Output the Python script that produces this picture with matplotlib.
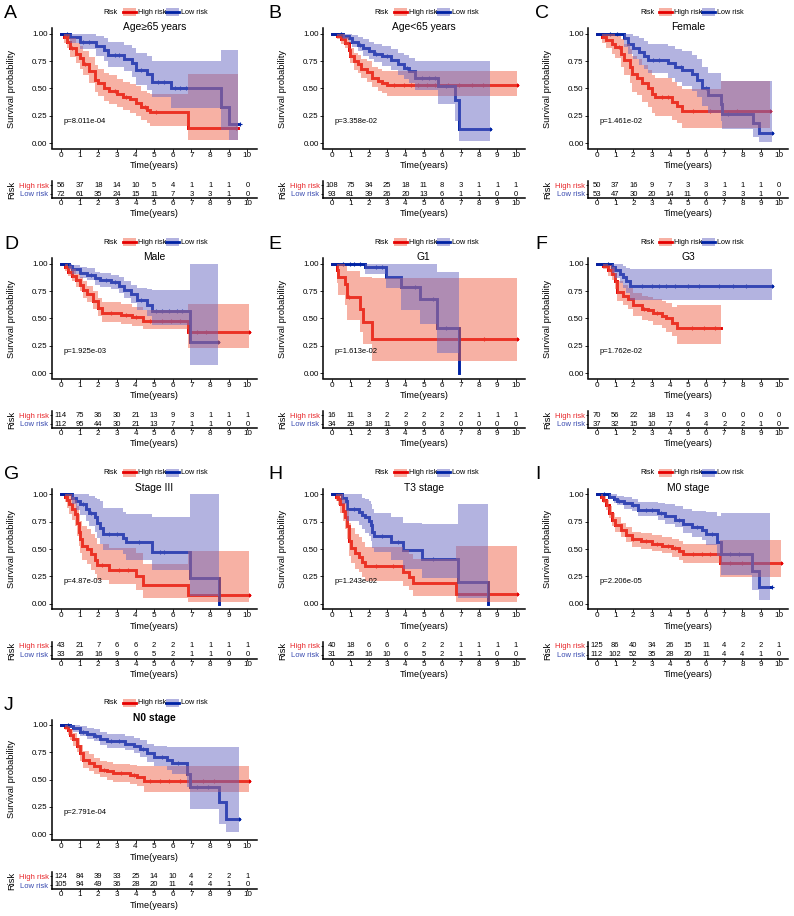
import matplotlib
matplotlib.use('Agg')
import matplotlib.pyplot as plt
import numpy as np
from matplotlib.patches import Rectangle
from matplotlib.lines import Line2D

plt.rcParams['font.family'] = ['Liberation Sans', 'DejaVu Sans']

# ---------------- data ----------------
time_ticks = list(range(11))

A_high = dict(t=[0, 0.15, 0.3, 0.5, 0.8, 1.0, 1.2, 1.5, 1.8, 2.0, 2.3, 2.6, 3.0, 3.3, 3.7, 4.0, 4.3, 4.6, 4.8, 6.8, 9.5],
              s=[1, 0.97, 0.93, 0.87, 0.82, 0.78, 0.72, 0.66, 0.58, 0.55, 0.50, 0.48, 0.45, 0.42, 0.40, 0.37, 0.33, 0.30, 0.28, 0.14, 0.14],
              lo=[1, 0.92, 0.87, 0.79, 0.73, 0.68, 0.62, 0.55, 0.47, 0.43, 0.39, 0.36, 0.33, 0.30, 0.28, 0.25, 0.21, 0.18, 0.16, 0.03, 0.03],
              hi=[1, 1.0, 1.0, 0.96, 0.92, 0.89, 0.84, 0.79, 0.72, 0.68, 0.64, 0.62, 0.59, 0.56, 0.54, 0.52, 0.48, 0.46, 0.45, 0.63, 0.63],
              cens=[0.6, 1.3, 2.9, 3.5, 4.5, 5.1, 9.4])
A_low = dict(t=[0, 0.5, 1.0, 1.9, 2.3, 2.5, 3.4, 3.8, 4.0, 4.6, 4.9, 5.9, 8.6, 9.0, 9.5],
             s=[1, 0.97, 0.93, 0.89, 0.85, 0.81, 0.77, 0.73, 0.67, 0.63, 0.56, 0.50, 0.33, 0.17, 0.17],
             lo=[1, 0.92, 0.86, 0.80, 0.75, 0.70, 0.66, 0.61, 0.53, 0.49, 0.42, 0.32, 0.12, 0.03, 0.03],
             hi=[1, 1.0, 1.0, 0.98, 0.96, 0.93, 0.90, 0.87, 0.83, 0.80, 0.75, 0.75, 0.85, 0.85, 0.85],
             cens=[0.3, 1.2, 1.5, 2.9, 3.1, 4.3, 5.2, 5.5, 6.1, 6.4, 6.7, 9.6])
A_risk_high = [56, 37, 18, 14, 10, 5, 4, 1, 1, 1, 0]
A_risk_low = [72, 61, 35, 24, 15, 11, 7, 3, 3, 1, 0]

B_high = dict(t=[0, 0.3, 0.5, 0.7, 0.9, 1.0, 1.2, 1.4, 1.6, 1.9, 2.2, 2.5, 2.7, 3.0, 10.1],
              s=[1, 0.98, 0.95, 0.92, 0.85, 0.80, 0.75, 0.72, 0.68, 0.65, 0.60, 0.57, 0.55, 0.53, 0.53],
              lo=[1, 0.95, 0.91, 0.87, 0.79, 0.73, 0.67, 0.64, 0.60, 0.56, 0.51, 0.48, 0.46, 0.43, 0.43],
              hi=[1, 1.0, 1.0, 0.97, 0.91, 0.87, 0.83, 0.81, 0.77, 0.75, 0.70, 0.68, 0.66, 0.66, 0.66],
              cens=[3.4, 3.9, 4.3, 4.7, 5.2, 5.6, 6.3, 6.9, 7.6, 8.2, 10.1])
B_low = dict(t=[0, 0.6, 0.9, 1.1, 1.4, 1.7, 2.0, 2.3, 2.7, 3.2, 3.6, 3.9, 4.2, 4.5, 5.8, 6.7, 6.9, 8.6],
             s=[1, 0.98, 0.96, 0.93, 0.90, 0.87, 0.84, 0.82, 0.80, 0.76, 0.72, 0.69, 0.66, 0.60, 0.52, 0.39, 0.13, 0.13],
             lo=[1, 0.95, 0.92, 0.88, 0.84, 0.80, 0.77, 0.74, 0.71, 0.67, 0.62, 0.59, 0.55, 0.49, 0.36, 0.20, 0.02, 0.02],
             hi=[1, 1.0, 1.0, 0.99, 0.97, 0.95, 0.93, 0.91, 0.89, 0.86, 0.83, 0.81, 0.78, 0.75, 0.75, 0.75, 0.75, 0.75],
             cens=[0.5, 1.5, 2.4, 3.0, 4.1, 4.9, 5.3, 5.6, 6.2, 8.6])
B_risk_high = [108, 75, 34, 25, 18, 11, 8, 3, 1, 1, 1]
B_risk_low = [93, 81, 39, 26, 20, 13, 6, 1, 1, 0, 0]

C_high = dict(t=[0, 0.3, 0.5, 0.8, 1.0, 1.3, 1.5, 1.8, 1.9, 2.2, 2.5, 2.8, 3.0, 3.2, 4.1, 4.4, 4.7, 6.8, 9.5],
              s=[1, 0.97, 0.94, 0.91, 0.88, 0.82, 0.76, 0.70, 0.63, 0.60, 0.55, 0.50, 0.45, 0.42, 0.38, 0.34, 0.29, 0.29, 0.29],
              lo=[1, 0.92, 0.87, 0.82, 0.78, 0.70, 0.62, 0.55, 0.47, 0.44, 0.38, 0.33, 0.28, 0.25, 0.21, 0.18, 0.14, 0.14, 0.14],
              hi=[1, 1.0, 1.0, 1.0, 0.98, 0.95, 0.91, 0.86, 0.80, 0.77, 0.72, 0.67, 0.62, 0.60, 0.56, 0.52, 0.50, 0.57, 0.57],
              cens=[1.2, 3.6, 3.9, 5.3, 6.2, 7.7, 9.5])
C_low = dict(t=[0, 1.5, 1.7, 2.0, 2.3, 2.6, 2.8, 3.9, 4.3, 4.7, 5.2, 5.5, 5.8, 6.1, 6.8, 6.9, 8.6, 8.9, 9.6],
             s=[1, 0.96, 0.91, 0.87, 0.83, 0.80, 0.76, 0.73, 0.70, 0.67, 0.63, 0.58, 0.50, 0.44, 0.36, 0.27, 0.18, 0.09, 0.09],
             lo=[1, 0.88, 0.82, 0.77, 0.72, 0.68, 0.64, 0.60, 0.56, 0.52, 0.48, 0.42, 0.34, 0.28, 0.20, 0.13, 0.06, 0.01, 0.01],
             hi=[1, 1.0, 1.0, 0.98, 0.96, 0.94, 0.91, 0.89, 0.86, 0.84, 0.81, 0.77, 0.70, 0.64, 0.57, 0.57, 0.57, 0.57, 0.57],
             cens=[0.7, 1.1, 3.1, 3.4, 4.6, 6.0, 7.2, 9.6])
C_risk_high = [50, 37, 16, 9, 7, 3, 3, 1, 1, 1, 0]
C_risk_low = [53, 47, 30, 20, 14, 11, 6, 3, 3, 1, 0]

D_high = dict(t=[0, 0.2, 0.4, 0.6, 0.8, 1.0, 1.2, 1.4, 1.7, 2.0, 2.2, 3.2, 3.8, 4.4, 6.8, 10.1],
              s=[1, 0.97, 0.93, 0.89, 0.85, 0.81, 0.76, 0.72, 0.66, 0.60, 0.55, 0.53, 0.51, 0.48, 0.38, 0.38],
              lo=[1, 0.94, 0.89, 0.84, 0.79, 0.75, 0.69, 0.65, 0.59, 0.52, 0.47, 0.45, 0.43, 0.40, 0.23, 0.23],
              hi=[1, 1.0, 0.98, 0.95, 0.91, 0.88, 0.84, 0.80, 0.75, 0.69, 0.65, 0.63, 0.61, 0.58, 0.63, 0.63],
              cens=[2.7, 3.5, 4.0, 4.8, 5.4, 5.9, 6.4, 7.3, 7.8, 10.1])
D_low = dict(t=[0, 0.45, 0.6, 1.0, 1.4, 1.8, 2.1, 2.7, 3.1, 3.4, 3.75, 4.1, 4.6, 4.9, 6.9, 8.4],
             s=[1, 0.98, 0.95, 0.92, 0.90, 0.87, 0.85, 0.83, 0.80, 0.76, 0.72, 0.67, 0.62, 0.57, 0.28, 0.28],
             lo=[1, 0.95, 0.91, 0.87, 0.85, 0.81, 0.79, 0.77, 0.73, 0.69, 0.64, 0.58, 0.52, 0.44, 0.07, 0.07],
             hi=[1, 1.0, 0.99, 0.97, 0.96, 0.93, 0.92, 0.90, 0.88, 0.84, 0.81, 0.78, 0.77, 0.76, 1.0, 1.0],
             cens=[0.5, 1.6, 2.4, 2.9, 4.3, 5.1, 5.4, 5.8, 6.2, 6.5, 8.4])
D_risk_high = [114, 75, 36, 30, 21, 13, 9, 3, 1, 1, 1]
D_risk_low = [112, 95, 44, 30, 21, 13, 7, 1, 1, 0, 0]

E_high = dict(t=[0, 0.25, 0.35, 0.7, 0.8, 1.5, 1.7, 2.2, 10.1],
              s=[1, 0.94, 0.88, 0.82, 0.70, 0.59, 0.47, 0.31, 0.31],
              lo=[1, 0.83, 0.72, 0.62, 0.49, 0.38, 0.27, 0.11, 0.11],
              hi=[1, 1.0, 1.0, 0.98, 0.94, 0.88, 0.88, 0.87, 0.87],
              cens=[0.9, 8.3, 10.1])
E_low = dict(t=[0, 1.8, 2.95, 3.75, 4.8, 5.7, 6.9],
             s=[1, 0.97, 0.88, 0.79, 0.68, 0.41, 0.0],
             lo=[1, 0.91, 0.78, 0.58, 0.45, 0.18, 0.0],
             hi=[1, 1.0, 1.0, 1.0, 1.0, 0.93, 0.0],
             cens=[0.6, 1.0, 1.2, 1.5, 2.4, 2.7, 4.5, 5.5, 6.2])
E_risk_high = [16, 11, 3, 2, 2, 2, 2, 2, 1, 1, 1]
E_risk_low = [34, 29, 18, 11, 9, 6, 3, 0, 0, 0, 0]

F_high = dict(t=[0, 0.35, 0.6, 0.8, 1.0, 1.1, 1.45, 1.7, 2.0, 2.45, 2.8, 3.1, 3.6, 3.8, 4.1, 4.4, 6.8],
              s=[1, 0.98, 0.94, 0.91, 0.84, 0.74, 0.71, 0.68, 0.62, 0.59, 0.58, 0.55, 0.52, 0.50, 0.46, 0.41, 0.41],
              lo=[1, 0.95, 0.89, 0.85, 0.77, 0.66, 0.62, 0.59, 0.52, 0.49, 0.48, 0.44, 0.41, 0.38, 0.34, 0.27, 0.27],
              hi=[1, 1.0, 0.99, 0.97, 0.92, 0.84, 0.81, 0.78, 0.73, 0.71, 0.70, 0.68, 0.66, 0.64, 0.61, 0.62, 0.62],
              cens=[2.6, 3.3, 5.2, 5.9, 6.5])
F_low = dict(t=[0, 0.85, 1.0, 1.25, 1.45, 1.6, 1.8, 9.6],
             s=[1, 0.97, 0.94, 0.91, 0.88, 0.84, 0.80, 0.80],
             lo=[1, 0.92, 0.87, 0.83, 0.78, 0.73, 0.67, 0.67],
             hi=[1, 1.0, 1.0, 1.0, 0.98, 0.96, 0.95, 0.95],
             cens=[0.6, 2.5, 3.0, 3.4, 3.8, 4.3, 5.0, 5.6, 6.7, 7.5, 8.2, 9.6])
F_risk_high = [70, 56, 22, 18, 13, 4, 3, 0, 0, 0, 0]
F_risk_low = [37, 32, 15, 10, 7, 6, 4, 2, 2, 1, 0]

G_high = dict(t=[0, 0.2, 0.3, 0.45, 0.6, 0.75, 0.85, 0.95, 1.0, 1.15, 1.4, 1.6, 1.8, 1.95, 2.6, 4.0, 4.4, 6.8, 10.1],
              s=[1, 0.98, 0.95, 0.91, 0.87, 0.82, 0.74, 0.66, 0.59, 0.53, 0.50, 0.45, 0.40, 0.35, 0.31, 0.25, 0.17, 0.08, 0.08],
              lo=[1, 0.93, 0.88, 0.82, 0.77, 0.71, 0.62, 0.53, 0.46, 0.40, 0.36, 0.31, 0.27, 0.22, 0.18, 0.12, 0.05, 0.01, 0.01],
              hi=[1, 1.0, 1.0, 1.0, 0.98, 0.95, 0.89, 0.82, 0.76, 0.71, 0.68, 0.64, 0.60, 0.55, 0.51, 0.46, 0.36, 0.48, 0.48],
              cens=[2.2, 3.1, 3.6, 10.1])
G_low = dict(t=[0, 0.6, 0.8, 1.0, 1.35, 1.5, 1.8, 1.95, 2.1, 2.25, 3.3, 3.5, 4.9, 6.9, 8.5],
             s=[1, 0.97, 0.94, 0.91, 0.87, 0.83, 0.79, 0.74, 0.69, 0.64, 0.60, 0.56, 0.47, 0.23, 0.0],
             lo=[1, 0.91, 0.86, 0.81, 0.76, 0.71, 0.66, 0.60, 0.55, 0.49, 0.45, 0.40, 0.31, 0.07, 0.0],
             hi=[1, 1.0, 1.0, 1.0, 1.0, 0.99, 0.97, 0.96, 0.94, 0.88, 0.84, 0.82, 0.79, 1.0, 0.0],
             cens=[1.2, 1.6, 2.6, 3.0, 4.2, 5.3, 5.5])
G_risk_high = [43, 21, 7, 6, 6, 2, 2, 1, 1, 1, 1]
G_risk_low = [33, 26, 16, 9, 6, 5, 2, 1, 1, 0, 0]

H_high = dict(t=[0, 0.2, 0.33, 0.45, 0.6, 0.7, 0.8, 0.9, 0.95, 1.05, 1.25, 1.45, 1.65, 1.8, 3.85, 4.2, 4.4, 6.75, 10.05],
              s=[1, 0.98, 0.96, 0.91, 0.85, 0.79, 0.71, 0.65, 0.57, 0.51, 0.46, 0.43, 0.38, 0.34, 0.29, 0.24, 0.19, 0.09, 0.09],
              lo=[1, 0.94, 0.90, 0.83, 0.76, 0.68, 0.59, 0.52, 0.44, 0.37, 0.32, 0.29, 0.24, 0.21, 0.16, 0.12, 0.07, 0.01, 0.01],
              hi=[1, 1.0, 1.0, 1.0, 0.96, 0.92, 0.86, 0.81, 0.74, 0.69, 0.64, 0.61, 0.56, 0.52, 0.49, 0.45, 0.41, 0.53, 0.53],
              cens=[2.4, 3.3, 10.05])
H_low = dict(t=[0, 0.55, 0.75, 0.82, 1.45, 1.65, 1.8, 2.0, 2.1, 2.2, 2.3, 3.2, 3.85, 4.9, 6.85, 8.5],
             s=[1, 0.97, 0.94, 0.87, 0.84, 0.81, 0.79, 0.76, 0.72, 0.66, 0.62, 0.56, 0.49, 0.41, 0.20, 0.0],
             lo=[1, 0.91, 0.86, 0.76, 0.72, 0.68, 0.65, 0.62, 0.57, 0.51, 0.47, 0.40, 0.32, 0.23, 0.05, 0.0],
             hi=[1, 1.0, 1.0, 1.0, 1.0, 0.97, 0.96, 0.94, 0.91, 0.87, 0.83, 0.79, 0.74, 0.73, 0.91, 0.0],
             cens=[1.2, 2.7, 3.6, 5.5])
H_risk_high = [40, 18, 6, 6, 6, 2, 2, 1, 1, 1, 1]
H_risk_low = [31, 25, 16, 10, 6, 5, 2, 1, 1, 0, 0]

I_high = dict(t=[0, 0.2, 0.35, 0.47, 0.65, 0.85, 1.0, 1.3, 1.6, 1.9, 2.4, 3.0, 3.55, 4.1, 4.5, 4.75, 6.75, 10.1],
              s=[1, 0.98, 0.95, 0.90, 0.83, 0.77, 0.72, 0.67, 0.63, 0.59, 0.57, 0.55, 0.53, 0.51, 0.48, 0.45, 0.37, 0.37],
              lo=[1, 0.96, 0.92, 0.86, 0.78, 0.71, 0.66, 0.61, 0.56, 0.52, 0.50, 0.48, 0.46, 0.43, 0.40, 0.37, 0.24, 0.24],
              hi=[1, 1.0, 0.99, 0.95, 0.89, 0.83, 0.79, 0.74, 0.70, 0.66, 0.65, 0.63, 0.61, 0.59, 0.57, 0.55, 0.58, 0.58],
              cens=[2.0, 2.7, 3.3, 3.9, 4.3, 5.3, 5.8, 6.2, 7.3, 8.0, 10.1])
I_low = dict(t=[0, 0.65, 0.93, 1.1, 1.5, 1.9, 2.25, 3.35, 3.75, 4.3, 4.75, 5.25, 5.8, 6.0, 6.6, 6.8, 8.5, 8.9, 9.5],
             s=[1, 0.98, 0.96, 0.94, 0.92, 0.90, 0.86, 0.83, 0.80, 0.77, 0.73, 0.70, 0.67, 0.64, 0.56, 0.45, 0.30, 0.15, 0.15],
             lo=[1, 0.96, 0.92, 0.90, 0.87, 0.85, 0.80, 0.77, 0.73, 0.70, 0.65, 0.61, 0.58, 0.54, 0.44, 0.26, 0.12, 0.03, 0.03],
             hi=[1, 1.0, 1.0, 0.99, 0.98, 0.96, 0.93, 0.92, 0.91, 0.89, 0.87, 0.85, 0.85, 0.84, 0.80, 0.83, 0.83, 0.83, 0.83],
             cens=[0.4, 1.2, 2.0, 2.7, 3.0, 3.5, 4.5, 5.5, 6.3, 7.3, 7.8, 9.6])
I_risk_high = [125, 86, 40, 34, 26, 15, 11, 4, 2, 2, 1]
I_risk_low = [112, 102, 52, 35, 28, 20, 11, 4, 4, 1, 0]

J_high = dict(t=[0, 0.2, 0.35, 0.5, 0.65, 0.85, 1.0, 1.2, 1.5, 1.75, 2.1, 2.45, 2.8, 3.7, 4.1, 4.45, 10.1],
              s=[1, 0.98, 0.95, 0.91, 0.87, 0.81, 0.74, 0.68, 0.65, 0.62, 0.59, 0.58, 0.56, 0.54, 0.52, 0.49, 0.49],
              lo=[1, 0.95, 0.91, 0.86, 0.81, 0.75, 0.67, 0.61, 0.58, 0.55, 0.52, 0.50, 0.48, 0.46, 0.44, 0.39, 0.39],
              hi=[1, 1.0, 0.99, 0.96, 0.93, 0.88, 0.82, 0.76, 0.73, 0.70, 0.67, 0.66, 0.64, 0.63, 0.62, 0.62, 0.62],
              cens=[2.3, 3.2, 3.9, 4.8, 5.3, 5.8, 6.4, 7.0, 7.6, 8.2, 10.1])
J_low = dict(t=[0, 0.5, 0.65, 1.0, 1.4, 1.75, 2.1, 2.45, 3.45, 3.9, 4.25, 4.6, 5.0, 5.7, 5.95, 6.75, 6.9, 8.5, 8.85, 9.55],
             s=[1, 0.99, 0.97, 0.94, 0.92, 0.90, 0.87, 0.85, 0.83, 0.81, 0.78, 0.74, 0.71, 0.68, 0.65, 0.55, 0.43, 0.29, 0.14, 0.14],
             lo=[1, 0.97, 0.94, 0.90, 0.87, 0.85, 0.82, 0.79, 0.77, 0.74, 0.71, 0.66, 0.62, 0.59, 0.55, 0.43, 0.23, 0.09, 0.02, 0.02],
             hi=[1, 1.0, 1.0, 0.99, 0.97, 0.96, 0.94, 0.92, 0.90, 0.88, 0.86, 0.83, 0.81, 0.80, 0.80, 0.80, 0.80, 0.80, 0.80, 0.80],
             cens=[0.4, 1.2, 1.9, 2.7, 3.1, 4.4, 5.4, 6.3, 7.3, 7.9, 9.55])
J_risk_high = [124, 84, 39, 33, 25, 14, 10, 4, 2, 2, 1]
J_risk_low = [105, 94, 49, 36, 28, 20, 11, 4, 4, 1, 0]

letters = ['A', 'B', 'C', 'D', 'E', 'F', 'G', 'H', 'I', 'J']
titles = ['Age\u226565 years', 'Age<65 years', 'Female', 'Male', 'G1', 'G3',
          'Stage III', 'T3 stage', 'M0 stage', 'N0 stage']
pvalues = ['p=8.011e-04', 'p=3.358e-02', 'p=1.461e-02', 'p=1.925e-03', 'p=1.613e-02',
           'p=1.762e-02', 'p=4.87e-03', 'p=1.243e-02', 'p=2.206e-05', 'p=2.791e-04']
highs = [A_high, B_high, C_high, D_high, E_high, F_high, G_high, H_high, I_high, J_high]
lows = [A_low, B_low, C_low, D_low, E_low, F_low, G_low, H_low, I_low, J_low]
risk_highs = [A_risk_high, B_risk_high, C_risk_high, D_risk_high, E_risk_high,
              F_risk_high, G_risk_high, H_risk_high, I_risk_high, J_risk_high]
risk_lows = [A_risk_low, B_risk_low, C_risk_low, D_risk_low, E_risk_low,
             F_risk_low, G_risk_low, H_risk_low, I_risk_low, J_risk_low]

# ---------------- style ----------------
RED_LINE = '#E60000'
BLUE_LINE = '#0023A5'
RED_FILL = '#F0644B'
BLUE_FILL = '#6969C3'
RED_TXT = '#E8262A'
BLUE_TXT = '#3A4BB0'

W, H = 794, 916
fig = plt.figure(figsize=(W / 100, H / 100), dpi=100)


def fx(x):
    return x / W


def fy(y):
    return 1 - y / H


col_left = [51.7, 322.8, 587.9]
col_width = [205, 202, 200]
row_base = [0, 230, 460.5, 691]
letter_x = [4, 268, 535]
TAB_TOP, TAB_H = 181, 17
ROW_HI_PX, ROW_LO_PX = 185.3, 194.0


def add_ax(left, top, width, height):
    return fig.add_axes([fx(left), fy(top + height), width / W, height / H])


def draw_curve(ax, c, line_col, fill_col, zfill):
    t = np.array(c['t'])
    s = np.array(c['s'])
    ax.step(t, s, where='post', color=line_col, lw=2.1, zorder=2, solid_joinstyle='miter')
    ax.fill_between(t, c['lo'], c['hi'], step='post', color=fill_col, alpha=0.5, lw=0, zorder=zfill)
    ct = np.array(c['cens'])
    idx = np.clip(np.searchsorted(t, ct, side='right') - 1, 0, len(s) - 1)
    ax.plot(ct, s[idx], ls='none', marker='+', ms=3.5, mew=0.8, color=line_col, zorder=2)


for i in range(10):
    r, cidx = divmod(i, 3)
    base = row_base[r]
    left = col_left[cidx]
    width = col_width[cidx]

    # main KM axes
    ax = add_ax(left, base + 28.5, width, 120)
    draw_curve(ax, highs[i], RED_LINE, RED_FILL, 3)
    draw_curve(ax, lows[i], BLUE_LINE, BLUE_FILL, 4)
    ax.set_xlim(-0.5, 10.5)
    ax.set_ylim(-0.05, 1.05)
    ax.set_xticks(time_ticks)
    ax.set_xticklabels([str(v) for v in time_ticks])
    ax.set_yticks([0, 0.25, 0.5, 0.75, 1.0])
    ax.set_yticklabels(['0.00', '0.25', '0.50', '0.75', '1.00'])
    for sp in ['top', 'right']:
        ax.spines[sp].set_visible(False)
    for sp in ['left', 'bottom']:
        ax.spines[sp].set_linewidth(1.1)
        ax.spines[sp].set_zorder(6)
    ax.tick_params(axis='x', length=2, width=0.6, pad=0.5, labelsize=5.9)
    ax.tick_params(axis='y', length=2, width=0.6, pad=1.0, labelsize=5.8)
    ax.text(0.15, 0.2, pvalues[i], fontsize=5.5, ha='left', va='center', zorder=7)

    # labels via figure text
    fig.text(fx(left + width / 2), fy(base + 27), titles[i], fontsize=7.4,
             ha='center', va='center', fontweight='bold' if i == 9 else 'normal')
    fig.text(fx(left + width / 2), fy(base + 166), 'Time(years)', fontsize=6.6, ha='center', va='center')
    fig.text(fx(left - 40), fy(base + 88.5), 'Survival probability', fontsize=6.7,
             ha='center', va='center', rotation=90)
    fig.text(fx(letter_x[cidx]), fy(base + 14), letters[i], fontsize=14, ha='left', va='center')

    # legend
    ly = base + 12
    fig.text(fx(left + 52), fy(ly), 'Risk', fontsize=5.2, ha='left', va='center')
    fig.patches.append(Rectangle((fx(left + 71), fy(ly + 4)), 13 / W, 8 / H, transform=fig.transFigure,
                                 facecolor=RED_FILL, alpha=0.5, edgecolor='none'))
    fig.lines.append(Line2D([fx(left + 71), fx(left + 84)], [fy(ly), fy(ly)], transform=fig.transFigure,
                            color=RED_LINE, lw=2.0))
    fig.text(fx(left + 86), fy(ly), 'High risk', fontsize=5.2, ha='left', va='center')
    fig.patches.append(Rectangle((fx(left + 114), fy(ly + 4)), 13 / W, 8 / H, transform=fig.transFigure,
                                 facecolor=BLUE_FILL, alpha=0.5, edgecolor='none'))
    fig.lines.append(Line2D([fx(left + 114), fx(left + 127)], [fy(ly), fy(ly)], transform=fig.transFigure,
                            color=BLUE_LINE, lw=2.0))
    fig.text(fx(left + 129), fy(ly), 'Low risk', fontsize=5.2, ha='left', va='center')

    # risk table
    at = add_ax(left, base + TAB_TOP, width, TAB_H)
    at.set_xlim(-0.5, 10.5)
    at.set_ylim(0, 1)
    y_hi = (TAB_TOP + TAB_H - ROW_HI_PX) / TAB_H
    y_lo = (TAB_TOP + TAB_H - ROW_LO_PX) / TAB_H
    for x, nh, nl in zip(time_ticks, risk_highs[i], risk_lows[i]):
        at.text(x, y_hi, str(nh), fontsize=5.5, ha='center', va='center')
        at.text(x, y_lo, str(nl), fontsize=5.5, ha='center', va='center')
    at.set_xticks(time_ticks)
    at.set_xticklabels([str(v) for v in time_ticks])
    at.set_yticks([y_hi, y_lo])
    at.set_yticklabels(['High risk', 'Low risk'])
    tl = at.get_yticklabels()
    tl[0].set_color(RED_TXT)
    tl[1].set_color(BLUE_TXT)
    for sp in ['top', 'right']:
        at.spines[sp].set_visible(False)
    for sp in ['left', 'bottom']:
        at.spines[sp].set_linewidth(1.1)
    at.tick_params(axis='x', length=1.5, width=0.6, pad=0.2, labelsize=5.8)
    at.tick_params(axis='y', length=1.5, width=0.6, pad=0.8, labelsize=5.5)
    fig.text(fx(left - 40), fy(base + 190), 'Risk', fontsize=6.7,
             ha='center', va='center', rotation=90)
    fig.text(fx(left + width / 2), fy(base + 214), 'Time(years)', fontsize=6.6, ha='center', va='center')

fig.savefig('out.png', dpi=100)
